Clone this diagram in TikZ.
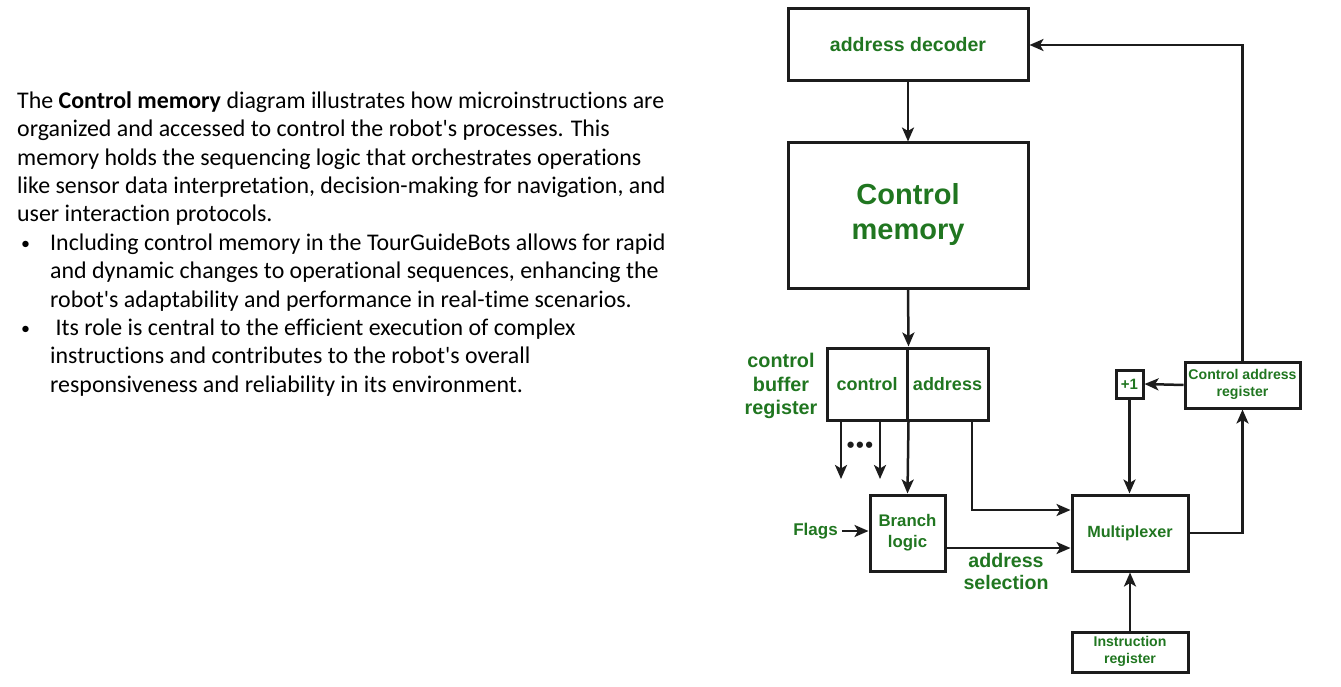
\documentclass[tikz,border=0pt]{standalone}
\usepackage{fontspec}
\setmainfont{Carlito}[Ligatures={NoCommon}]
\newfontfamily\diagfont{Liberation Sans}[BoldFont={Liberation Sans Bold}]
\usetikzlibrary{arrows.meta,calc}
\definecolor{labelgreen}{RGB}{32,118,32}
\definecolor{ink}{RGB}{28,28,28}
% lines of a block label, raised by #1
\newcommand\liftlines[2]{\raisebox{#1}{\begin{tabular}{@{}c@{}}#2\end{tabular}}}
\newcommand\apos{\textquotesingle}
\begin{document}
\begin{tikzpicture}[x=1pt,y=-1pt,
  box/.style={draw=ink,line width=3pt,inner sep=0pt,align=center,
    text=labelgreen,font=\diagfont\bfseries},
  lbl/.style={text=labelgreen,align=center,inner sep=0pt,font=\diagfont\bfseries},
  conn/.style={draw=ink,line width=2.5pt,-{Stealth[length=14pt,width=12pt,inset=3.5pt]}},
  para/.style={anchor=base west,inner sep=0pt,font=\fontsize{23.9}{28.4}\selectfont},
  bul/.style={anchor=base west,inner sep=0pt,font=\fontsize{18}{28.4}\selectfont}]
\useasboundingbox (0,0) rectangle (1341,687);

% ---- descriptive text ----
\node[para] (t1) at (17,108.3) {The \textbf{Control memory} diagram illustrates how microinstructions are};
\node[para] (t2) at (17,136.7) {organized and accessed to control the robot\apos s processes. This};
\node[para] (t3) at (17,165.1) {memory holds the sequencing logic that orchestrates operations};
\node[para] (t4) at (17,193.5) {like sensor data interpretation, decision-making for navigation, and};
\node[para] (t5) at (17,221.9) {user interaction protocols.};
\node[bul] (b1) at (21,249.5) {•};
\node[para] (t6) at (50,250.3) {Including control memory in the TourGuideBots allows for rapid};
\node[para] (t7) at (50,278.7) {and dynamic changes to operational sequences, enhancing the};
\node[para] (t8) at (50,307.1) {robot\apos s adaptability and performance in real-time scenarios.};
\node[bul] (b2) at (21,334.7) {•};
\node[para] (t9) at (50,335.5) {\ Its role is central to the efficient execution of complex};
\node[para] (t10) at (50,363.9) {instructions and contributes to the robot\apos s overall};
\node[para] (t11) at (50,392.3) {responsiveness and reliability in its environment.};

% ---- blocks ----
\node[box,minimum width=240,minimum height=72,font=\diagfont\bfseries\fontsize{19.5}{22}\selectfont]
  (dec) at (908,45) {\raisebox{2pt}{address decoder}};
\node[box,minimum width=240,minimum height=145,font=\diagfont\bfseries\fontsize{29}{35}\selectfont]
  (mem) at (908,215.5) {\liftlines{5pt}{Control\\memory}};
\node[box,minimum width=80,minimum height=72,font=\diagfont\bfseries\fontsize{18}{21}\selectfont]
  (cbrC) at (867,384) {control};
\node[box,minimum width=81,minimum height=72,font=\diagfont\bfseries\fontsize{18}{21}\selectfont]
  (cbrA) at (947.5,384) {address};
\node[box,minimum width=75,minimum height=76,font=\diagfont\bfseries\fontsize{16.8}{21}\selectfont]
  (br) at (907.5,533) {\liftlines{1pt}{Branch\\logic}};
\node[box,minimum width=116,minimum height=76,font=\diagfont\bfseries\fontsize{16.2}{20}\selectfont]
  (mux) at (1130,533) {Multiplexer};
\node[box,minimum width=116,minimum height=40,font=\diagfont\bfseries\fontsize{14.1}{17}\selectfont]
  (ir) at (1130,652) {\liftlines{-1pt}{Instruction\\register}};
\node[box,minimum width=27,minimum height=28,font=\diagfont\bfseries\fontsize{15}{17}\selectfont]
  (p1) at (1129.5,384) {+1};
\node[box,minimum width=115,minimum height=46,font=\diagfont\bfseries\fontsize{14.1}{17}\selectfont]
  (car) at (1242.5,385) {\liftlines{4pt}{Control address\\register}};

% ---- labels ----
\node[lbl,font=\diagfont\bfseries\fontsize{19.8}{23.5}\selectfont] (cbrl) at (781,386) {control\\buffer\\register};
\node[lbl,font=\diagfont\bfseries\fontsize{17}{20}\selectfont] (flags) at (815.5,531) {Flags};
\node[lbl,font=\diagfont\bfseries\fontsize{19.6}{22}\selectfont] (asel) at (1006,571) {address\\selection};
\node[inner sep=0pt,text=ink,font=\diagfont\bfseries\fontsize{22}{24}\selectfont] (dots) at (860,447) {•\kern1.5pt•\kern1.5pt•};

% ---- connector points ----
\coordinate (o1) at (841,479);
\coordinate (o2) at (880,479);
\coordinate (a1) at (972,510);
\coordinate (s1) at (945,548);

% ---- connectors ----
\draw[conn] (dec.south) -- (mem.north);
\draw[conn] (mem.south) -- (cbrC.north east);
\draw[conn] (cbrC.south east) -- (br.north);
\draw[conn] (o1 |- cbrC.south) -- (o1);
\draw[conn] (o2 |- cbrC.south) -- (o2);
\draw[conn] (a1 |- cbrA.south) -- (a1) -- (a1 -| mux.west);
\draw[conn] (flags.east) ++(4,0) -- (br.west |- flags.east);
\draw[conn] (s1) -- (s1 -| mux.west);
\draw[conn] (ir.north) -- (mux.south);
\draw[conn] (car.west) -- (p1.east);
\draw[conn] (p1.south) -- (p1.south |- mux.north);
\draw[conn] (mux.east) -| (car.south);
\draw[conn] (car.north) |- (dec.east);
\end{tikzpicture}
\end{document}
